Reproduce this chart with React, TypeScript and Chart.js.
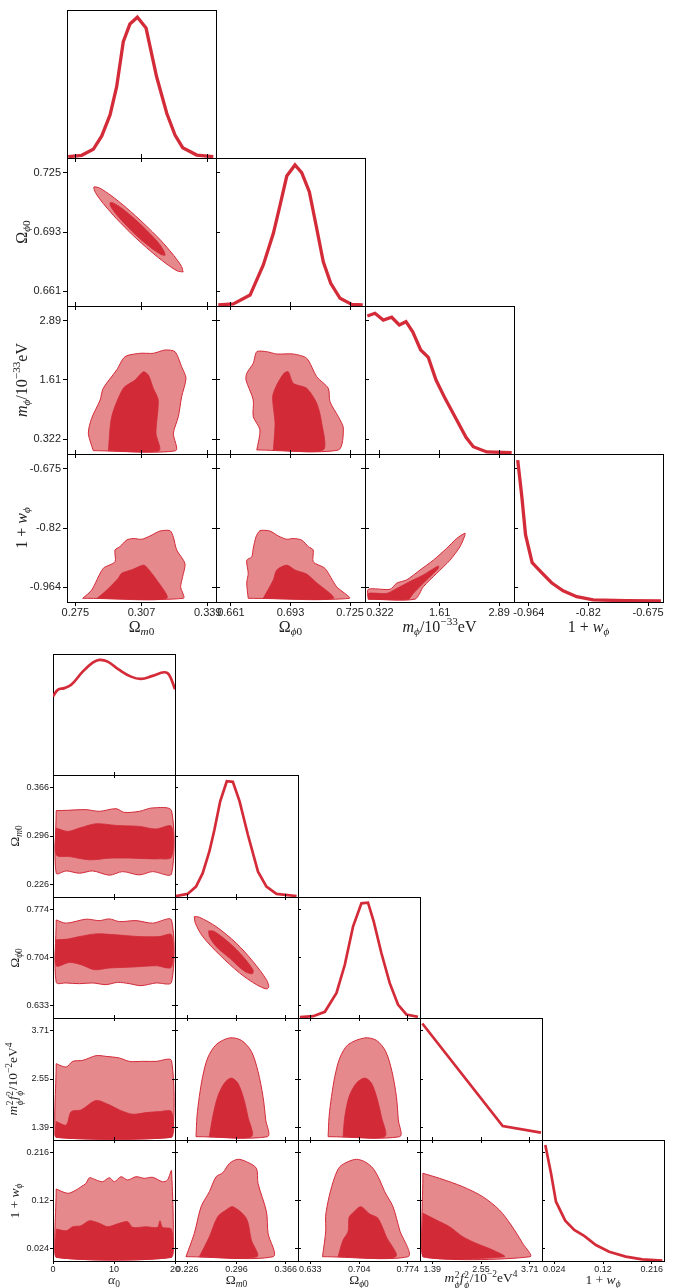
import React, { useEffect, useRef } from "react";
import { Chart, registerables } from "chart.js";

Chart.register(...registerables);

type Pt = [number, number];

// ================= Top corner plot (A) =================
const A_TITLES = ["Ωm0", "Ωϕ0", "mϕ/10^-33 eV", "1 + wϕ"];
const A_MIN = [0.271, 0.653, 0.001, -1.0];
const A_MAX = [0.343, 0.733, 3.211, -0.639];
const A_TICKS = [
  [0.275, 0.307, 0.339],
  [0.661, 0.693, 0.725],
  [0.322, 1.61, 2.89],
  [-0.964, -0.82, -0.675],
];
const A_TICK_LABELS = [
  ["0.275", "0.307", "0.339"],
  ["0.661", "0.693", "0.725"],
  ["0.322", "1.61", "2.89"],
  ["-0.964", "-0.82", "-0.675"],
];

const A_OM_PDF: Pt[] = [[0.2716,0.009],[0.2781,0.018],[0.2837,0.059],[0.2878,0.149],[0.2918,0.291],[0.2950,0.482],[0.2982,0.786],[0.3014,0.905],[0.3050,0.951],[0.3092,0.878],[0.3143,0.549],[0.3192,0.302],[0.3232,0.155],[0.3269,0.070],[0.3337,0.020],[0.3417,0.009]];
const A_OP_PDF: Pt[] = [[0.6542,0.007],[0.6623,0.014],[0.6713,0.074],[0.6784,0.277],[0.6838,0.491],[0.6874,0.682],[0.6910,0.878],[0.6954,0.953],[0.6990,0.901],[0.7031,0.772],[0.7067,0.547],[0.7106,0.299],[0.7146,0.153],[0.7196,0.052],[0.7259,0.011],[0.7318,0.007]];
const A_M_PDF: Pt[] = [[0.051,0.932],[0.216,0.951],[0.395,0.905],[0.576,0.924],[0.740,0.872],[0.884,0.894],[1.029,0.826],[1.201,0.703],[1.365,0.653],[1.531,0.500],[1.725,0.376],[1.977,0.230],[2.177,0.113],[2.334,0.049],[2.623,0.014],[3.161,0.009]];
const A_W_PDF: Pt[] = [[-0.991,0.959],[-0.981,0.711],[-0.972,0.453],[-0.956,0.266],[-0.933,0.198],[-0.909,0.130],[-0.881,0.076],[-0.848,0.036],[-0.808,0.014],[-0.727,0.009],[-0.644,0.007]];

const A_OM_OP_OUTER: Pt[] = [[0.3271,0.6714],[0.3244,0.6719],[0.3189,0.6759],[0.3113,0.6827],[0.3029,0.6912],[0.2949,0.7002],[0.2885,0.7084],[0.2847,0.7144],[0.2840,0.7173],[0.2867,0.7168],[0.2922,0.7128],[0.2998,0.7060],[0.3082,0.6975],[0.3163,0.6885],[0.3226,0.6803],[0.3264,0.6743],[0.3271,0.6714]];
const A_OM_OP_INNER: Pt[] = [[0.3184,0.6804],[0.3166,0.6807],[0.3132,0.6831],[0.3085,0.6872],[0.3032,0.6925],[0.2983,0.6981],[0.2944,0.7031],[0.2921,0.7069],[0.2918,0.7088],[0.2935,0.7086],[0.2970,0.7062],[0.3017,0.7020],[0.3069,0.6968],[0.3119,0.6912],[0.3158,0.6863],[0.3180,0.6823],[0.3184,0.6804]];
const A_OM_M_OUTER: Pt[] = [[0.2837,0.073],[0.2813,0.450],[0.2829,0.775],[0.2870,1.172],[0.2885,1.426],[0.2950,1.823],[0.2990,2.111],[0.3063,2.185],[0.3127,2.185],[0.3184,2.257],[0.3232,2.220],[0.3264,1.894],[0.3285,1.643],[0.3264,1.244],[0.3248,0.810],[0.3224,0.450],[0.3235,0.073],[0.2837,0.073]];
const A_OM_M_INNER: Pt[] = [[0.2910,0.073],[0.2926,0.810],[0.2982,1.426],[0.3039,1.606],[0.3079,1.786],[0.3103,1.714],[0.3127,1.426],[0.3151,1.172],[0.3140,0.450],[0.3155,0.073],[0.2910,0.073]];
const A_OP_M_OUTER: Pt[] = [[0.6749,0.088],[0.6766,0.522],[0.6730,0.810],[0.6730,1.172],[0.6691,1.606],[0.6695,1.751],[0.6730,1.968],[0.6749,2.220],[0.6802,2.220],[0.6856,2.170],[0.6945,2.170],[0.7017,2.077],[0.7071,1.678],[0.7133,1.426],[0.7142,1.135],[0.7187,0.810],[0.7214,0.558],[0.7187,0.088],[0.6749,0.088]];
const A_OP_M_INNER: Pt[] = [[0.6838,0.088],[0.6847,0.667],[0.6834,1.244],[0.6856,1.498],[0.6895,1.751],[0.6918,1.786],[0.6945,1.534],[0.7017,1.426],[0.7071,1.101],[0.7098,0.667],[0.7106,0.088],[0.6838,0.088]];
const A_OM_W_OUTER: Pt[] = [[0.2786,-0.991],[0.2829,-0.971],[0.2885,-0.918],[0.2942,-0.902],[0.2942,-0.873],[0.2966,-0.865],[0.2998,-0.849],[0.3030,-0.845],[0.3071,-0.847],[0.3111,-0.839],[0.3159,-0.827],[0.3208,-0.826],[0.3224,-0.842],[0.3240,-0.873],[0.3280,-0.906],[0.3269,-0.938],[0.3259,-0.963],[0.3272,-0.991],[0.2786,-0.991]];
const A_OM_W_INNER: Pt[] = [[0.2856,-0.991],[0.2902,-0.971],[0.2958,-0.942],[0.2974,-0.930],[0.3030,-0.920],[0.3079,-0.910],[0.3095,-0.915],[0.3143,-0.946],[0.3192,-0.991],[0.2856,-0.991]];
const A_OP_W_OUTER: Pt[] = [[0.6703,-0.991],[0.6695,-0.954],[0.6703,-0.930],[0.6695,-0.898],[0.6722,-0.890],[0.6730,-0.869],[0.6745,-0.841],[0.6766,-0.826],[0.6820,-0.827],[0.6865,-0.839],[0.6910,-0.847],[0.6945,-0.845],[0.6990,-0.849],[0.7026,-0.865],[0.7052,-0.873],[0.7052,-0.902],[0.7115,-0.918],[0.7178,-0.963],[0.7246,-0.991],[0.6703,-0.991]];
const A_OP_W_INNER: Pt[] = [[0.6784,-0.991],[0.6838,-0.946],[0.6856,-0.922],[0.6910,-0.910],[0.6954,-0.922],[0.7017,-0.932],[0.7062,-0.950],[0.7160,-0.991],[0.6784,-0.991]];
const A_M_W_OUTER: Pt[] = [[0.072,-0.993],[0.072,-0.969],[0.540,-0.969],[0.684,-0.954],[0.899,-0.946],[1.186,-0.922],[1.472,-0.898],[1.761,-0.869],[1.977,-0.845],[2.155,-0.832],[2.155,-0.837],[2.048,-0.865],[1.832,-0.898],[1.546,-0.930],[1.257,-0.963],[1.078,-0.993],[0.072,-0.993]];
const A_M_W_INNER: Pt[] = [[0.072,-0.993],[0.072,-0.979],[0.469,-0.979],[0.684,-0.967],[0.970,-0.950],[1.257,-0.934],[1.580,-0.912],[1.580,-0.918],[1.330,-0.946],[1.042,-0.979],[0.934,-0.993],[0.072,-0.993]];

// ================= Bottom corner plot (B) =================
const B_TITLES = ["α0", "Ωm0", "Ωϕ0", "m²ϕ f²ϕ/10^-2 eV^4", "1 + wϕ"];
const B_MIN = [0, 0.2085, 0.6154, 1.1, 0.0];
const B_MAX = [20, 0.3835, 0.7916, 4.0, 0.24];
const B_TICKS = [
  [0, 10, 20],
  [0.226, 0.296, 0.366],
  [0.633, 0.704, 0.774],
  [1.39, 2.55, 3.71],
  [0.024, 0.12, 0.216],
];
const B_TICK_LABELS = [
  ["0", "10", "20"],
  ["0.226", "0.296", "0.366"],
  ["0.633", "0.704", "0.774"],
  ["1.39", "2.55", "3.71"],
  ["0.024", "0.12", "0.216"],
];

const B_A_PDF: Pt[] = [[0,0.649],[0.78,0.704],[1.88,0.718],[2.98,0.745],[4.87,0.854],[6.51,0.928],[7.60,0.951],[8.96,0.937],[10.87,0.868],[12.79,0.813],[14.42,0.794],[16.32,0.819],[18.23,0.849],[19.05,0.827],[20,0.709]];
const B_OM_PDF: Pt[] = [[0.2098,0.008],[0.2264,0.025],[0.2384,0.085],[0.2479,0.195],[0.2574,0.373],[0.2646,0.551],[0.2728,0.784],[0.2822,0.949],[0.2908,0.944],[0.3004,0.784],[0.3122,0.510],[0.3266,0.208],[0.3386,0.085],[0.3529,0.025],[0.3815,0.008]];
const B_OP_PDF: Pt[] = [[0.6181,0.007],[0.6373,0.015],[0.6542,0.051],[0.6710,0.207],[0.6830,0.440],[0.6949,0.756],[0.7070,0.948],[0.7165,0.953],[0.7248,0.797],[0.7358,0.537],[0.7478,0.290],[0.7598,0.111],[0.7719,0.029],[0.7886,0.010]];
const B_MF_PDF: Pt[] = [[1.155,0.955],[3.066,0.115],[3.976,0.060]];
const B_W_PDF: Pt[] = [[0.0065,0.959],[0.0177,0.725],[0.0275,0.490],[0.0457,0.333],[0.0634,0.256],[0.0830,0.207],[0.1060,0.132],[0.1321,0.077],[0.1648,0.036],[0.1974,0.014],[0.2367,0.003]];

const B_A_OM_OUTER: Pt[] = [[0.52,0.3324],[2.16,0.3328],[5.43,0.3338],[7.60,0.3314],[10.34,0.3352],[11.69,0.3299],[14.15,0.3314],[16.32,0.3363],[19.43,0.3324],[19.43,0.2416],[16.32,0.2449],[14.15,0.2402],[11.41,0.2449],[9.24,0.2398],[6.51,0.2459],[4.33,0.2426],[2.16,0.2459],[0.52,0.2426],[0.52,0.3324]];
const B_A_OM_INNER: Pt[] = [[0.52,0.3074],[2.42,0.3026],[4.33,0.3074],[7.06,0.3136],[10.34,0.3112],[14.15,0.3098],[16.88,0.3060],[19.43,0.3098],[19.43,0.2657],[17.42,0.2632],[13.05,0.2642],[9.24,0.2642],[5.97,0.2618],[2.70,0.2665],[0.52,0.2690],[0.52,0.3074]];
const B_A_OP_OUTER: Pt[] = [[0.52,0.7582],[2.16,0.7535],[5.43,0.7593],[7.60,0.7572],[9.24,0.7597],[10.87,0.7558],[13.61,0.7572],[16.32,0.7535],[19.43,0.7582],[19.43,0.6673],[16.88,0.6664],[14.42,0.6625],[12.52,0.6654],[10.60,0.6673],[8.70,0.6640],[6.51,0.6664],[4.33,0.6654],[2.16,0.6664],[0.52,0.6673],[0.52,0.7582]];
const B_A_OP_INNER: Pt[] = [[0.52,0.7292],[2.42,0.7303],[4.33,0.7340],[7.06,0.7379],[10.34,0.7365],[14.15,0.7340],[17.42,0.7340],[19.43,0.7365],[19.43,0.6896],[16.88,0.6915],[13.05,0.6896],[9.24,0.6882],[6.79,0.6857],[4.61,0.6930],[2.70,0.6963],[0.52,0.6915],[0.52,0.7292]];
const B_A_MF_OUTER: Pt[] = [[0.52,2.914],[2.16,2.835],[3.24,2.969],[4.87,2.993],[7.06,3.105],[8.70,3.088],[10.87,3.050],[12.52,2.969],[14.69,2.969],[16.88,2.969],[19.43,2.986],[19.43,1.164],[0.52,1.164],[0.52,2.914]];
const B_A_MF_INNER: Pt[] = [[0.52,1.537],[2.16,1.458],[2.98,1.775],[4.61,1.816],[7.06,2.038],[9.24,1.935],[10.87,1.816],[13.05,1.713],[15.27,1.752],[17.42,1.775],[19.43,1.775],[19.43,1.164],[0.52,1.164],[0.52,1.537]];
const B_A_W_OUTER: Pt[] = [[0.52,0.1428],[2.42,0.1343],[3.79,0.1408],[4.61,0.1474],[5.43,0.1541],[5.97,0.1652],[7.06,0.1607],[8.14,0.1573],[9.24,0.1652],[10.06,0.1573],[11.15,0.1672],[12.23,0.1607],[13.61,0.1672],[14.96,0.1640],[16.32,0.1660],[17.96,0.1573],[18.77,0.1607],[19.43,0.1791],[19.43,0.0073],[0.52,0.0073],[0.52,0.1428]];
const B_A_W_INNER: Pt[] = [[0.52,0.0635],[2.16,0.0601],[3.24,0.0680],[4.61,0.0700],[5.97,0.0799],[7.60,0.0748],[8.96,0.0680],[10.87,0.0748],[12.23,0.0780],[13.05,0.0668],[15.27,0.0680],[17.14,0.0668],[17.53,0.0799],[17.96,0.0668],[19.43,0.0629],[19.43,0.0073],[0.52,0.0073],[0.52,0.0635]];
const B_OM_OP_OUTER: Pt[] = [[0.2360,0.7630],[0.2431,0.7622],[0.2670,0.7485],[0.2956,0.7245],[0.3194,0.6978],[0.3386,0.6712],[0.3419,0.6606],[0.3386,0.6577],[0.3243,0.6640],[0.3004,0.6809],[0.2718,0.7075],[0.2479,0.7340],[0.2374,0.7535],[0.2360,0.7630]];
const B_OM_OP_INNER: Pt[] = [[0.2564,0.7423],[0.2646,0.7413],[0.2861,0.7245],[0.3051,0.7050],[0.3194,0.6857],[0.3185,0.6799],[0.3075,0.6833],[0.2861,0.7027],[0.2670,0.7195],[0.2574,0.7340],[0.2564,0.7423]];
const B_OM_MF_OUTER: Pt[] = [[0.2384,1.179],[0.2398,1.656],[0.2431,2.133],[0.2479,2.611],[0.2550,3.050],[0.2670,3.367],[0.2861,3.527],[0.3028,3.470],[0.3171,3.208],[0.3266,2.730],[0.3337,2.133],[0.3376,1.577],[0.3400,1.179],[0.2384,1.179]];
const B_OM_MF_INNER: Pt[] = [[0.2574,1.179],[0.2622,1.656],[0.2693,2.133],[0.2789,2.453],[0.2885,2.573],[0.2979,2.453],[0.3061,2.095],[0.3122,1.656],[0.3171,1.179],[0.2574,1.179]];
const B_OP_MF_OUTER: Pt[] = [[0.6589,1.179],[0.6603,1.656],[0.6638,2.133],[0.6686,2.611],[0.6758,3.050],[0.6877,3.367],[0.7118,3.527],[0.7286,3.470],[0.7420,3.208],[0.7511,2.730],[0.7575,2.133],[0.7603,1.577],[0.7622,1.179],[0.6589,1.179]];
const B_OP_MF_INNER: Pt[] = [[0.6805,1.179],[0.6830,1.656],[0.6892,2.133],[0.6998,2.453],[0.7118,2.573],[0.7214,2.453],[0.7295,2.095],[0.7358,1.656],[0.7406,1.179],[0.6805,1.179]];
const B_OM_W_OUTER: Pt[] = [[0.2241,0.0085],[0.2360,0.0549],[0.2456,0.1077],[0.2574,0.1375],[0.2670,0.1672],[0.2765,0.1751],[0.2861,0.1938],[0.2979,0.2017],[0.3100,0.1970],[0.3243,0.1839],[0.3266,0.1541],[0.3386,0.0978],[0.3409,0.0549],[0.3480,0.0085],[0.2241,0.0085]];
const B_OM_W_INNER: Pt[] = [[0.2431,0.0085],[0.2574,0.0482],[0.2693,0.0879],[0.2813,0.1012],[0.2908,0.1077],[0.3100,0.0847],[0.3171,0.0417],[0.3251,0.0085],[0.2431,0.0085]];
const B_OP_W_OUTER: Pt[] = [[0.6508,0.0085],[0.6556,0.0615],[0.6552,0.0879],[0.6603,0.1275],[0.6686,0.1672],[0.6758,0.1870],[0.6877,0.1970],[0.6998,0.2017],[0.7118,0.1970],[0.7237,0.1839],[0.7334,0.1607],[0.7406,0.1375],[0.7526,0.1077],[0.7622,0.0615],[0.7742,0.0085],[0.6508,0.0085]];
const B_OP_W_INNER: Pt[] = [[0.6733,0.0085],[0.6805,0.0417],[0.6877,0.0581],[0.6892,0.0867],[0.6949,0.0958],[0.7060,0.1077],[0.7190,0.0932],[0.7309,0.0847],[0.7430,0.0482],[0.7564,0.0085],[0.6733,0.0085]];
const B_MF_W_OUTER: Pt[] = [[1.169,0.1740],[1.565,0.1640],[2.117,0.1474],[2.592,0.1275],[2.987,0.1012],[3.265,0.0714],[3.540,0.0351],[3.715,0.0085],[1.169,0.0085],[1.169,0.1740]];
const B_MF_W_INNER: Pt[] = [[1.169,0.0946],[1.487,0.0813],[1.802,0.0680],[2.117,0.0482],[2.435,0.0351],[2.829,0.0218],[3.106,0.0085],[1.169,0.0085],[1.169,0.0946]];

// ================= styling =================
const LINE_COLOR = "#d42b39";
const INNER_COLOR = "#d22a37";
const OUTER_COLOR = "#e5898d";
const EDGE_COLOR = "#d32a38";
const TICK_FAMILY = "'Liberation Sans', Arial, sans-serif";
const TITLE_FAMILY = "'Liberation Serif', 'DejaVu Serif', serif";
const PAD = 6;

// ---------- math-style axis titles (HTML text) ----------
function Sub({ children }: { children: React.ReactNode }) {
  return <span style={{ fontSize: "70%", verticalAlign: "-0.3em", lineHeight: 0 }}>{children}</span>;
}
function Sup({ children }: { children: React.ReactNode }) {
  return <span style={{ fontSize: "70%", verticalAlign: "0.6em", lineHeight: 0 }}>{children}</span>;
}
function SupSub({ sup, sub }: { sup: React.ReactNode; sub: React.ReactNode }) {
  return (
    <span
      style={{
        display: "inline-flex",
        flexDirection: "column",
        fontSize: "70%",
        lineHeight: 1.1,
        verticalAlign: "0.5em",
        marginLeft: 0.5,
        marginRight: 0.5,
      }}
    >
      <span>{sup}</span>
      <span>{sub}</span>
    </span>
  );
}
const PHI = "ϕ";

const TITLE_NODES: Record<string, React.ReactNode> = {
  "Ωm0": (<>Ω<Sub><i>m</i>0</Sub></>),
  "Ωϕ0": (<>Ω<Sub><i>{PHI}</i>0</Sub></>),
  "mϕ/10^-33 eV": (<><i>m</i><Sub><i>{PHI}</i></Sub>/10<Sup>−33</Sup>eV</>),
  "1 + wϕ": (<>1 + <i>w</i><Sub><i>{PHI}</i></Sub></>),
  "α0": (<><i>α</i><Sub>0</Sub></>),
  "m²ϕ f²ϕ/10^-2 eV^4": (<><i>m</i><SupSub sup="2" sub={<i>{PHI}</i>} /><i>f</i><SupSub sup="2" sub={<i>{PHI}</i>} />/10<Sup>−2</Sup>eV<Sup>4</Sup></>),
};

interface PlotDef {
  n: number;
  colEdges: number[];
  rowEdges: number[];
  titles: string[];
  mins: number[];
  maxs: number[];
  ticks: number[][];
  labels: string[][];
  pdfs: Pt[][];
  pdfTension: number[];
  contours: Record<string, [Pt[], Pt[]]>;
  contourTension: number;
  tickFont: number;
  titleFont: number;
  tickLen: number;
  tickPadX: number;
  tickPadY: number;
  padLeftFirst: number;
  padBottomLast: number;
  xTitleY: number;
  yTitleX: number;
  lineWidth: number;
}

const PLOT_A: PlotDef = {
  n: 4,
  colEdges: [67, 216, 365, 514, 663],
  rowEdges: [10, 158, 306, 454, 602],
  titles: A_TITLES,
  mins: A_MIN,
  maxs: A_MAX,
  ticks: A_TICKS,
  labels: A_TICK_LABELS,
  pdfs: [A_OM_PDF, A_OP_PDF, A_M_PDF, A_W_PDF],
  pdfTension: [0, 0, 0, 0],
  contours: {
    "01": [A_OM_OP_OUTER, A_OM_OP_INNER],
    "02": [A_OM_M_OUTER, A_OM_M_INNER],
    "12": [A_OP_M_OUTER, A_OP_M_INNER],
    "03": [A_OM_W_OUTER, A_OM_W_INNER],
    "13": [A_OP_W_OUTER, A_OP_W_INNER],
    "23": [A_M_W_OUTER, A_M_W_INNER],
  },
  contourTension: 0.25,
  tickFont: 11,
  titleFont: 16,
  tickLen: 4,
  tickPadX: 0,
  tickPadY: 2,
  padLeftFirst: 67,
  padBottomLast: 46,
  xTitleY: 627,
  yTitleX: 22,
  lineWidth: 3.3,
};

const PLOT_B: PlotDef = {
  n: 5,
  colEdges: [53, 175, 298, 420, 542, 664],
  rowEdges: [654, 775, 897, 1018, 1140, 1261],
  titles: B_TITLES,
  mins: B_MIN,
  maxs: B_MAX,
  ticks: B_TICKS,
  labels: B_TICK_LABELS,
  pdfs: [B_A_PDF, B_OM_PDF, B_OP_PDF, B_MF_PDF, B_W_PDF],
  pdfTension: [0.4, 0, 0, 0, 0],
  contours: {
    "01": [B_A_OM_OUTER, B_A_OM_INNER],
    "02": [B_A_OP_OUTER, B_A_OP_INNER],
    "03": [B_A_MF_OUTER, B_A_MF_INNER],
    "04": [B_A_W_OUTER, B_A_W_INNER],
    "12": [B_OM_OP_OUTER, B_OM_OP_INNER],
    "13": [B_OM_MF_OUTER, B_OM_MF_INNER],
    "14": [B_OM_W_OUTER, B_OM_W_INNER],
    "23": [B_OP_MF_OUTER, B_OP_MF_INNER],
    "24": [B_OP_W_OUTER, B_OP_W_INNER],
    "34": [B_MF_W_OUTER, B_MF_W_INNER],
  },
  contourTension: 0.3,
  tickFont: 9,
  titleFont: 13.5,
  tickLen: 3,
  tickPadX: 0,
  tickPadY: 1,
  padLeftFirst: 53,
  padBottomLast: 27,
  xTitleY: 1280,
  yTitleX: 15,
  lineWidth: 2.7,
};

interface AxisOpts {
  axis: "x" | "y";
  pos: "left" | "right" | "top" | "bottom";
  min: number;
  max: number;
  ticks: number[];
  labels: string[];
  showLabels: boolean;
  marks: boolean;
  size: number;
  p: PlotDef;
}

function makeAxis(o: AxisOpts): any {
  const isX = o.axis === "x";
  return {
    type: "linear",
    axis: o.axis,
    position: o.pos,
    display: true,
    bounds: "data",
    min: o.min,
    max: o.max,
    afterBuildTicks: (s: any) => {
      s.ticks = o.ticks.map((v) => ({ value: v }));
    },
    afterFit: (s: any) => {
      if (isX) s.height = o.size;
      else s.width = o.size;
      s.paddingLeft = 0;
      s.paddingRight = 0;
      s.paddingTop = 0;
      s.paddingBottom = 0;
    },
    ticks: {
      display: o.showLabels,
      autoSkip: false,
      maxRotation: 0,
      minRotation: 0,
      padding: isX ? o.p.tickPadX : o.p.tickPadY,
      color: "#222",
      font: { family: TICK_FAMILY, size: o.p.tickFont },
      callback: (_v: any, i: number) => o.labels[i] ?? "",
    },
    grid: {
      display: true,
      drawOnChartArea: false,
      drawTicks: o.marks,
      tickLength: o.p.tickLen,
      color: "#000",
      lineWidth: 1,
    },
    border: { display: true, color: "#000", width: 1 },
    title: { display: false },
  };
}

function toXY(pts: Pt[]) {
  return pts.map(([x, y]) => ({ x, y }));
}

function buildDatasets(p: PlotDef, r: number, c: number): any[] {
  if (r === c) {
    return [
      {
        data: toXY(p.pdfs[c]),
        showLine: true,
        borderColor: LINE_COLOR,
        borderWidth: p.lineWidth,
        pointRadius: 0,
        tension: p.pdfTension[c],
        fill: false,
      },
    ];
  }
  const [outer, inner] = p.contours[`${c}${r}`];
  return [
    {
      data: toXY(inner),
      showLine: true,
      borderColor: INNER_COLOR,
      backgroundColor: INNER_COLOR,
      borderWidth: 0.8,
      pointRadius: 0,
      tension: p.contourTension,
      fill: "shape",
    },
    {
      data: toXY(outer),
      showLine: true,
      borderColor: EDGE_COLOR,
      backgroundColor: OUTER_COLOR,
      borderWidth: 1,
      pointRadius: 0,
      tension: p.contourTension,
      fill: "shape",
    },
  ];
}

function Panel({ p, r, c }: { p: PlotDef; r: number; c: number }) {
  const ref = useRef<HTMLCanvasElement>(null);
  const left = p.colEdges[c];
  const top = p.rowEdges[r];
  const w = p.colEdges[c + 1] - left;
  const h = p.rowEdges[r + 1] - top;
  const diag = r === c;
  const showX = r === p.n - 1;
  const showY = c === 0 && r > 0;
  const padL = c === 0 ? p.padLeftFirst : PAD;
  const padB = showX ? p.padBottomLast : PAD;
  const padT = PAD;
  const padR = PAD;

  useEffect(() => {
    const canvas = ref.current;
    if (!canvas) return;
    const xCfg = { min: p.mins[c], max: p.maxs[c], ticks: p.ticks[c], labels: p.labels[c] };
    const yCfg = diag
      ? { min: 0, max: 1, ticks: [] as number[], labels: [] as string[] }
      : { min: p.mins[r], max: p.maxs[r], ticks: p.ticks[r], labels: p.labels[r] };
    const chart = new Chart(canvas, {
      type: "scatter",
      data: { datasets: buildDatasets(p, r, c) },
      options: {
        animation: false,
        responsive: true,
        maintainAspectRatio: false,
        events: [],
        layout: { padding: 0 },
        plugins: { legend: { display: false }, tooltip: { enabled: false } },
        scales: {
          x: makeAxis({ axis: "x", pos: "bottom", ...xCfg, showLabels: showX, marks: true, size: padB, p }),
          x2: makeAxis({ axis: "x", pos: "top", ...xCfg, showLabels: false, marks: !diag, size: padT, p }),
          y: makeAxis({ axis: "y", pos: "left", ...yCfg, showLabels: showY, marks: !diag, size: padL, p }),
          y2: makeAxis({ axis: "y", pos: "right", ...yCfg, showLabels: false, marks: !diag, size: padR, p }),
        },
      } as any,
    });
    return () => chart.destroy();
  }, [p, r, c]);

  return (
    <div
      style={{
        position: "absolute",
        left: left - padL,
        top: top - padT,
        width: w + padL + padR,
        height: h + padT + padB,
      }}
    >
      <canvas ref={ref} />
    </div>
  );
}

function AxisTitles({ p }: { p: PlotDef }) {
  const base: React.CSSProperties = {
    position: "absolute",
    whiteSpace: "nowrap",
    fontFamily: TITLE_FAMILY,
    fontSize: p.titleFont,
    lineHeight: 1,
    color: "#222",
  };
  const items: React.ReactElement[] = [];
  for (let i = 0; i < p.n; i++) {
    const cx = (p.colEdges[i] + p.colEdges[i + 1]) / 2;
    items.push(
      <div key={`x${i}`} style={{ ...base, left: cx, top: p.xTitleY, transform: "translate(-50%, -50%)" }}>
        {TITLE_NODES[p.titles[i]]}
      </div>
    );
    if (i > 0) {
      const cy = (p.rowEdges[i] + p.rowEdges[i + 1]) / 2;
      items.push(
        <div key={`y${i}`} style={{ ...base, left: p.yTitleX, top: cy, transform: "translate(-50%, -50%) rotate(-90deg)" }}>
          {TITLE_NODES[p.titles[i]]}
        </div>
      );
    }
  }
  return <>{items}</>;
}

function Corner({ p }: { p: PlotDef }) {
  const panels: React.ReactElement[] = [];
  for (let r = 0; r < p.n; r++) {
    for (let c = 0; c <= r; c++) {
      panels.push(<Panel key={`${r}-${c}`} p={p} r={r} c={c} />);
    }
  }
  return (
    <>
      {panels}
      <AxisTitles p={p} />
    </>
  );
}

export default function App() {
  return (
    <div
      style={{
        position: "absolute",
        left: 0,
        top: 0,
        width: 675,
        height: 1288,
        overflow: "hidden",
        background: "#fff",
      }}
    >
      <Corner p={PLOT_A} />
      <Corner p={PLOT_B} />
    </div>
  );
}
